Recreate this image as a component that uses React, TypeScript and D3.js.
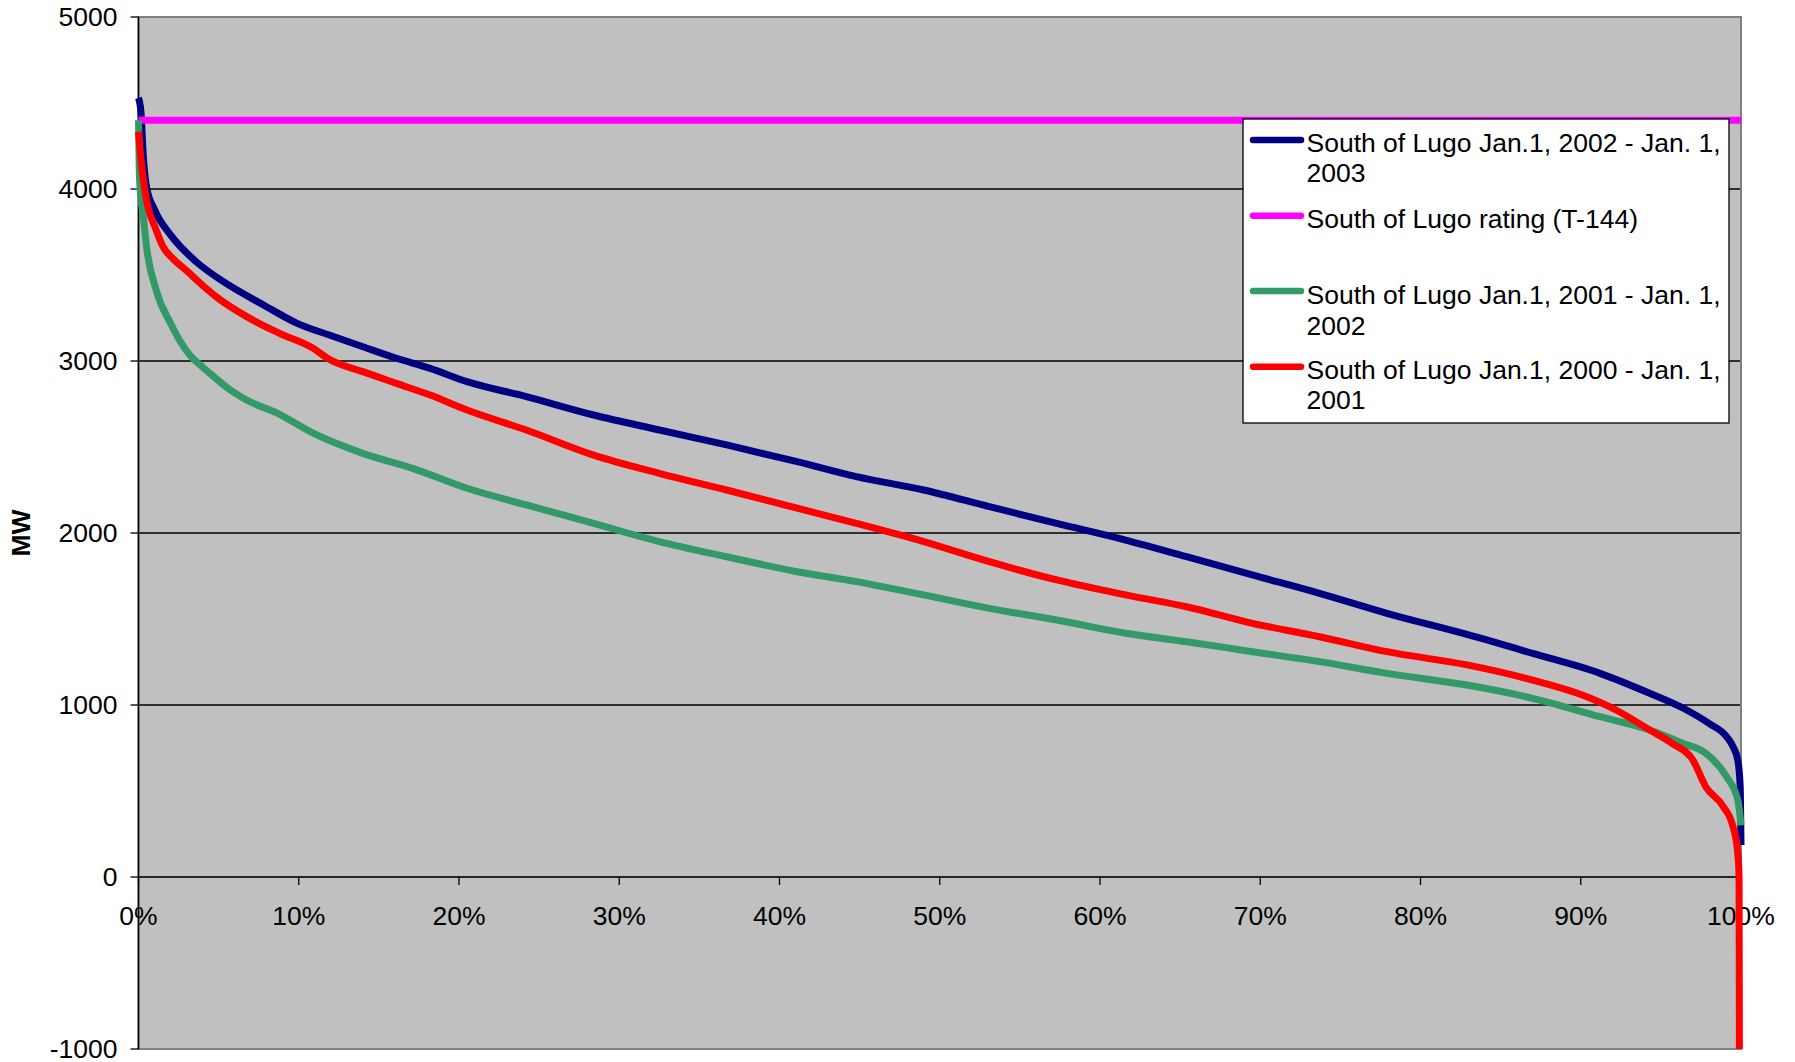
import React from "react";
import * as d3 from "d3";

// ---- Data (x = % of hours, y = MW) ----
const pct2002 = [0, 0.15, 0.3, 0.5, 1.0, 2.0, 3.6, 5.3, 7.8, 9.9, 11.9, 14, 16.1, 18.2, 20.5, 24.2, 28.4, 32.5, 36.7, 41.1, 44.8, 49, 53.1, 57.3, 61.6, 65.4, 69.5, 73.7, 77.9, 82.9, 87, 91.2, 94.3, 96.4, 98, 99.1, 99.5, 99.8, 99.95, 100];
const mw2002 = [4530, 4450, 4190, 4013, 3880, 3733, 3577, 3461, 3326, 3219, 3151, 3083, 3016, 2957, 2880, 2793, 2686, 2599, 2512, 2415, 2328, 2250, 2153, 2056, 1959, 1862, 1756, 1649, 1533, 1410, 1300, 1184, 1068, 981, 893, 816, 758, 680, 525, 186];

const pctRating = [0, 100];
const mwRating = [4400, 4400];

const pct2001 = [0, 0.05, 0.15, 0.3, 0.5, 1.1, 2.0, 2.6, 3.2, 4.0, 4.7, 5.6, 6.75, 8.8, 10.9, 14, 17.1, 20.5, 24.2, 28.4, 32.5, 36.7, 41.1, 44.8, 49, 53.1, 57.3, 61.6, 65.4, 69.5, 73.7, 77.9, 82.9, 87, 91.2, 94.3, 96.4, 97.8, 99.1, 99.8, 100];
const mw2001 = [4400, 4100, 3950, 3839, 3665, 3413, 3219, 3115, 3035, 2965, 2909, 2840, 2773, 2690, 2580, 2463, 2376, 2260, 2163, 2056, 1950, 1862, 1775, 1717, 1640, 1562, 1494, 1417, 1368, 1310, 1252, 1184, 1116, 1039, 932, 855, 777, 719, 583, 448, 300];

const pct2000 = [0, 0.2, 0.5, 1.1, 1.5, 2.2, 3.0, 4.0, 4.9, 6.75, 8.8, 10.9, 11.9, 14, 16.1, 18.2, 20.5, 24.2, 28.4, 32.5, 36.7, 41.1, 44.8, 49, 53.1, 57.3, 61.6, 65.4, 69.5, 73.7, 77.9, 82.9, 87, 90.1, 92.2, 94.3, 95.7, 97, 97.8, 98.9, 99.5, 99.8, 99.88, 99.9];
const mw2000 = [4333, 4130, 3936, 3762, 3670, 3590, 3525, 3440, 3370, 3258, 3161, 3074, 3010, 2938, 2870, 2802, 2715, 2599, 2453, 2347, 2250, 2144, 2056, 1950, 1833, 1727, 1640, 1571, 1475, 1397, 1310, 1233, 1145, 1058, 971, 855, 777, 680, 525, 409, 292, 138, 0, -1000];

const yTicks = [-1000, 0, 1000, 2000, 3000, 4000, 5000];
const xTicks = [0, 10, 20, 30, 40, 50, 60, 70, 80, 90, 100];

const seriesNames = [
  ["South of Lugo Jan.1, 2002 - Jan. 1,", "2003"],
  ["South of Lugo rating (T-144)"],
  ["South of Lugo Jan.1, 2001 - Jan. 1,", "2002"],
  ["South of Lugo Jan.1, 2000 - Jan. 1,", "2001"],
];
const seriesColors = ["#000080", "#FF00FF", "#339966", "#FF0000"];

const FONT = "'Liberation Sans', Arial, sans-serif";
const FS = 26.5;

export default function App() {
  const W = 1795, H = 1062;
  const left = 138.5, right = 1741, top = 17, bottom = 1049;
  const x = d3.scaleLinear().domain([0, 100]).range([left, right]);
  const y = d3.scaleLinear().domain([-1000, 5000]).range([bottom, top]);

  const line = d3
    .line<[number, number]>()
    .x((d) => x(d[0]))
    .y((d) => y(d[1]))
    .curve(d3.curveMonotoneX);

  const series = [
    { p: pct2002, v: mw2002 },
    { p: pctRating, v: mwRating },
    { p: pct2001, v: mw2001 },
    { p: pct2000, v: mw2000 },
  ];

  const legendX = 1243, legendY = 119, legendW = 486, legendH = 304;
  const sampleY = [140, 215.7, 291, 366.7];
  const textBase = [[152.3, 182.3], [228], [304, 335], [379, 409]];

  return (
    <svg
      width={W}
      height={H}
      style={{ position: "absolute", left: 0, top: 0, display: "block", background: "#fff" }}
      fontFamily={FONT}
    >
      <rect x={left} y={top} width={right - left} height={bottom - top} fill="#C0C0C0" />
      {yTicks
        .filter((t) => t > -1000 && t < 5000)
        .map((t) => (
          <line key={"g" + t} x1={left} x2={right} y1={y(t)} y2={y(t)} stroke="#000" strokeWidth={1.3} />
        ))}
      <rect x={left} y={top} width={right - left} height={bottom - top} fill="none" stroke="#808080" strokeWidth={2} />
      <line x1={left} x2={left} y1={top} y2={bottom} stroke="#000" strokeWidth={1.5} />
      {yTicks.map((t) => (
        <g key={"y" + t}>
          <line x1={left - 8} x2={left} y1={y(t)} y2={y(t)} stroke="#000" strokeWidth={1.3} />
          <text x={117.5} y={y(t)} dy="0.33em" textAnchor="end" fontSize={FS} fill="#000">
            {t}
          </text>
        </g>
      ))}
      <line x1={left} x2={right} y1={y(0)} y2={y(0)} stroke="#222" strokeWidth={1.5} />
      {xTicks.map((t) => (
        <g key={"x" + t}>
          <line x1={x(t)} x2={x(t)} y1={y(0)} y2={y(0) + 8} stroke="#000" strokeWidth={1.3} />
          <text x={x(t)} y={925} textAnchor="middle" fontSize={FS} fill="#000">
            {t + "%"}
          </text>
        </g>
      ))}
      <text
        transform={`translate(30,533) rotate(-90)`}
        textAnchor="middle"
        fontSize={FS}
        fontWeight="bold"
        fill="#000"
      >
        MW
      </text>
      {series.map((s, i) => (
        <path
          key={"s" + i}
          d={line(s.p.map((p, j) => [p, s.v[j]] as [number, number])) || ""}
          fill="none"
          stroke={seriesColors[i]}
          strokeWidth={7}
          strokeLinejoin="round"
        />
      ))}
      <rect x={legendX} y={legendY} width={legendW} height={legendH} fill="#fff" stroke="#000" strokeWidth={1.3} />
      {seriesNames.map((lines, i) => (
        <g key={"l" + i}>
          <line
            x1={1253}
            x2={1301}
            y1={sampleY[i]}
            y2={sampleY[i]}
            stroke={seriesColors[i]}
            strokeWidth={6.5}
            strokeLinecap="round"
          />
          {lines.map((ln, k) => (
            <text key={k} x={1306.5} y={textBase[i][k]} fontSize={FS} fill="#000">
              {ln}
            </text>
          ))}
        </g>
      ))}
    </svg>
  );
}
